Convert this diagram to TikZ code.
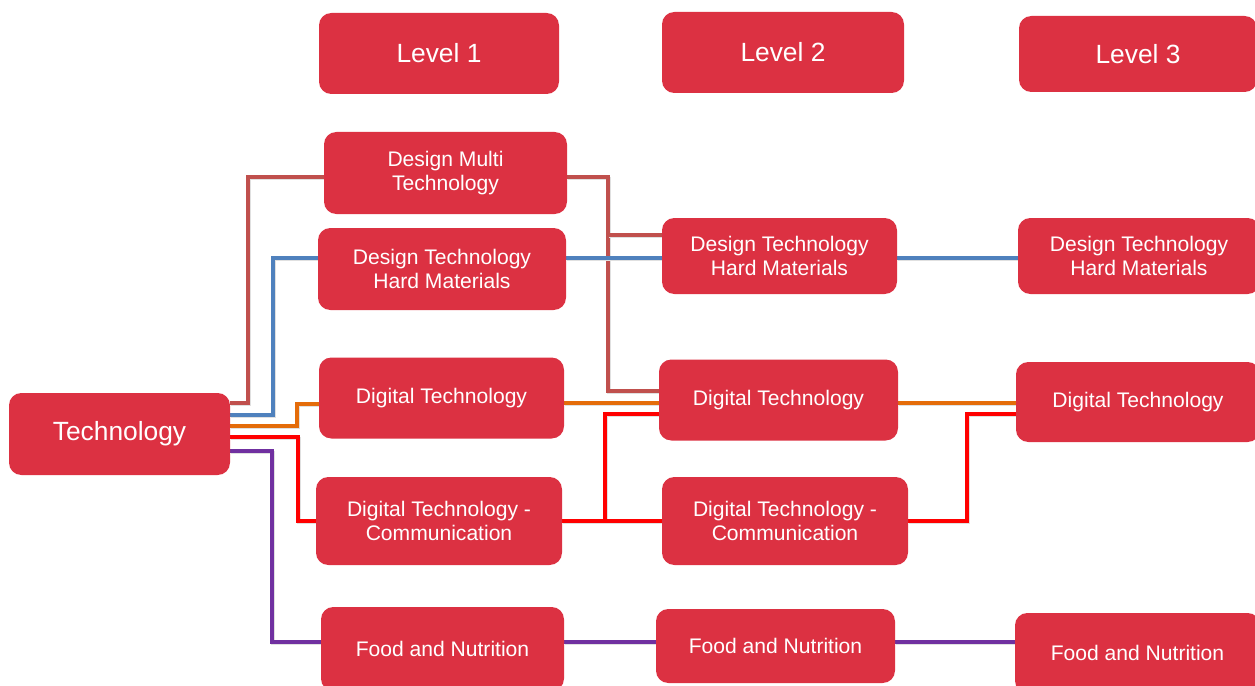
\documentclass[tikz,border=0pt]{standalone}
\usepackage{fontspec}
\setmainfont{Liberation Sans}
\usetikzlibrary{backgrounds}
\definecolor{boxred}{RGB}{220,49,66}
\definecolor{cbrown}{RGB}{192,80,77}
\definecolor{cblue}{RGB}{79,129,189}
\definecolor{corange}{RGB}{228,108,10}
\definecolor{cred}{RGB}{255,0,0}
\definecolor{cpurple}{RGB}{112,48,160}
\tikzset{
  box/.style={fill=boxred, rounded corners=7pt, text=white, align=center, inner sep=0pt,
    font=\fontsize{12}{14}\selectfont},
  hbox/.style={box, font=\fontsize{15}{17}\selectfont},
  conn/.style={line width=1.9pt, preaction={draw=black!12, line width=1.9pt, transform canvas={shift={(0.6pt,-1pt)}}}},
  brn/.style={conn, draw=cbrown},
  blu/.style={conn, draw=cblue},
  org/.style={conn, draw=corange},
  rd/.style={conn, draw=cred},
  pur/.style={conn, draw=cpurple},
}
\begin{document}
\begin{tikzpicture}[x=0.02cm, y=-0.02cm]
\useasboundingbox (0,0) rectangle (1255,686);
% headers
\node[hbox, minimum width=240*0.02cm, minimum height=81*0.02cm] (lv1) at (439,53.5) {Level 1};
\node[hbox, minimum width=242*0.02cm, minimum height=81*0.02cm] (lv2) at (783,52.5) {Level 2};
\node[hbox, minimum width=238*0.02cm, minimum height=76*0.02cm] (lv3) at (1138,54) {Level 3};
% root
\node[hbox, minimum width=221*0.02cm, minimum height=82*0.02cm] (tech) at (119.5,434) {Technology};
% level 1
\node[box, minimum width=243*0.02cm, minimum height=82*0.02cm] (dmt) at (445.5,173) {Design Multi\\Technology};
\node[box, minimum width=248*0.02cm, minimum height=82*0.02cm] (dh1) at (442,269) {Design Technology\\Hard Materials};
\node[box, minimum width=245*0.02cm, minimum height=81*0.02cm] (dg1) at (441.5,398) {Digital Technology};
\node[box, minimum width=246*0.02cm, minimum height=88*0.02cm] (dc1) at (439,521) {Digital Technology -\\Communication};
\node[box, minimum width=243*0.02cm, minimum height=84*0.02cm] (fn1) at (442.5,649) {Food and Nutrition};
% level 2
\node[box, minimum width=235*0.02cm, minimum height=76*0.02cm] (dh2) at (779.5,256) {Design Technology\\Hard Materials};
\node[box, minimum width=239*0.02cm, minimum height=81*0.02cm] (dg2) at (778.5,400) {Digital Technology};
\node[box, minimum width=246*0.02cm, minimum height=88*0.02cm] (dc2) at (785,521) {Digital Technology -\\Communication};
\node[box, minimum width=239*0.02cm, minimum height=74*0.02cm] (fn2) at (775.5,646) {Food and Nutrition};
% level 3
\node[box, minimum width=242*0.02cm, minimum height=76*0.02cm] (dh3) at (1139,256) {Design Technology\\Hard Materials};
\node[box, minimum width=244*0.02cm, minimum height=80*0.02cm] (dg3) at (1138,402) {Digital Technology};
\node[box, minimum width=245*0.02cm, minimum height=80*0.02cm] (fn3) at (1137.5,653) {Food and Nutrition};
% connectors
\begin{scope}[on background layer]
\draw[brn] (tech.east |- 0,403) -| (248,177) -- (dmt.west |- 0,177);
\draw[brn] (dmt.east |- 0,177) -| (608,391) -- (dg2.west |- 0,391);
\draw[brn] (608,235) -- (dh2.west |- 0,235);
\draw[blu] (tech.east |- 0,415) -| (273,258) -- (dh1.west |- 0,258);
\draw[blu] (dh1.east |- 0,258) -- (dh2.west |- 0,258);
\draw[blu] (dh2.east |- 0,258) -- (dh3.west |- 0,258);
\draw[org] (tech.east |- 0,426) -| (297,404) -- (dg1.west |- 0,404);
\draw[org] (dg1.east |- 0,403) -- (dg2.west |- 0,403);
\draw[org] (dg2.east |- 0,403) -- (dg3.west |- 0,403);
\draw[rd] (tech.east |- 0,437) -| (298,521) -- (dc1.west |- 0,521);
\draw[rd] (dc1.east |- 0,521) -| (605,414) -- (dg2.west |- 0,414);
\draw[rd] (605,521) -- (dc2.west |- 0,521);
\draw[rd] (dc2.east |- 0,521) -| (967,414) -- (dg3.west |- 0,414);
\draw[pur] (tech.east |- 0,451) -| (272,642) -- (fn1.west |- 0,642);
\draw[pur] (fn1.east |- 0,642) -- (fn2.west |- 0,642);
\draw[pur] (fn2.east |- 0,642) -- (fn3.west |- 0,642);
\end{scope}
\end{tikzpicture}
\end{document}
